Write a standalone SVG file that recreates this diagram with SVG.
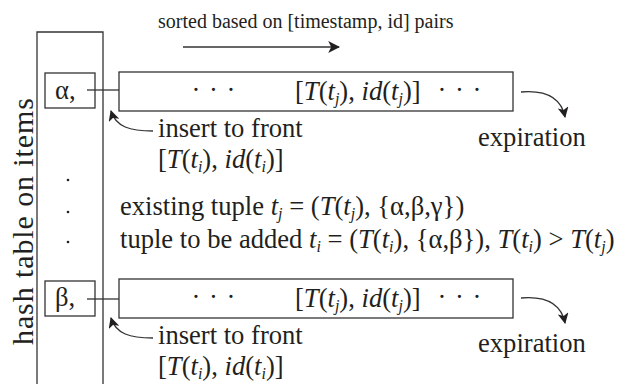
<svg xmlns="http://www.w3.org/2000/svg" width="621" height="384" viewBox="0 0 621 384" font-family="'Liberation Serif', 'Times New Roman', 'DejaVu Serif', serif">
<defs>
<style>
.ln{fill:none;stroke:#333;stroke-width:1.3}
.bx{fill:#fff;stroke:#333;stroke-width:1.3}
text{fill:#231f20}
.t{font-size:26.6px}
.d{font-size:26.6px;letter-spacing:1px}
.s{font-size:20px}
.v{font-size:30px}
.i{font-style:italic}
.sb{font-size:16px;font-style:italic}
</style>
<marker id="ah" viewBox="0 0 10 10" refX="9" refY="5" markerWidth="11" markerHeight="11" markerUnits="userSpaceOnUse" orient="auto">
<path d="M0,0 L10,5 L0,10 L2.5,5 Z" fill="#231f20"/>
</marker>
<marker id="ah2" viewBox="0 0 10 10" refX="9" refY="5" markerWidth="12" markerHeight="12" markerUnits="userSpaceOnUse" orient="auto">
<path d="M0,0 L10,5 L0,10 L2.5,5 Z" fill="#231f20"/>
</marker>
</defs>
<rect width="621" height="384" fill="#fff"/>

<g id="hashtable">
<path class="ln" d="M37,390 V32 H103 V390"/>
<text class="v" transform="translate(33,221.5) rotate(-90)" text-anchor="middle" textLength="247" lengthAdjust="spacing">hash table on items</text>
<circle cx="68" cy="180" r="1.3" fill="#231f20"/>
<circle cx="68" cy="212" r="1.3" fill="#231f20"/>
<circle cx="68" cy="242" r="1.3" fill="#231f20"/>
</g>

<g id="sorted-label">
<text class="s" x="158" y="28">sorted based on [timestamp, id] pairs</text>
</g>

<g id="alpha">
<rect class="bx" x="45" y="73" width="50" height="35"/>
<text class="t" x="55" y="99">α,</text>
</g>

<g id="list1">
<rect class="bx" x="119" y="72" width="394" height="39"/>
<text class="d" x="214" y="99" text-anchor="middle">· · ·</text>
<text class="t" x="295" y="100">[<tspan class="i">T</tspan>(<tspan class="i">t</tspan><tspan class="sb" dy="4">j</tspan><tspan dy="-4">), </tspan><tspan class="i">id</tspan>(<tspan class="i">t</tspan><tspan class="sb" dy="4">j</tspan><tspan dy="-4">)]</tspan></text>
<text class="d" x="460" y="99" text-anchor="middle">· · ·</text>
</g>

<g id="insert1">
<text class="t" x="158" y="137">insert to front</text>
<text class="t" x="158" y="168">[<tspan class="i">T</tspan>(<tspan class="i">t</tspan><tspan class="sb" dy="4">i</tspan><tspan dy="-4">), </tspan><tspan class="i">id</tspan>(<tspan class="i">t</tspan><tspan class="sb" dy="4">i</tspan><tspan dy="-4">)]</tspan></text>
</g>

<g id="expiration1">
<text class="t" x="478" y="146">expiration</text>
</g>

<g id="tuples">
<text class="t" x="120" y="215">existing tuple <tspan class="i">t</tspan><tspan class="sb" dy="4">j</tspan><tspan dy="-4"> = (</tspan><tspan class="i">T</tspan>(<tspan class="i">t</tspan><tspan class="sb" dy="4">j</tspan><tspan dy="-4">), {α,β,γ})</tspan></text>
<text class="t" x="120" y="248">tuple to be added <tspan class="i">t</tspan><tspan class="sb" dy="4">i</tspan><tspan dy="-4"> = (</tspan><tspan class="i">T</tspan>(<tspan class="i">t</tspan><tspan class="sb" dy="4">i</tspan><tspan dy="-4">), {α,β}), </tspan><tspan class="i">T</tspan>(<tspan class="i">t</tspan><tspan class="sb" dy="4">i</tspan><tspan dy="-4">) &gt; </tspan><tspan class="i">T</tspan>(<tspan class="i">t</tspan><tspan class="sb" dy="4">j</tspan><tspan dy="-4">)</tspan></text>
</g>

<g id="beta">
<rect class="bx" x="45" y="281" width="50" height="35"/>
<text class="t" x="55" y="306">β,</text>
</g>

<g id="list2">
<rect class="bx" x="119" y="279" width="394" height="39"/>
<text class="d" x="214" y="306" text-anchor="middle">· · ·</text>
<text class="t" x="295" y="307">[<tspan class="i">T</tspan>(<tspan class="i">t</tspan><tspan class="sb" dy="4">j</tspan><tspan dy="-4">), </tspan><tspan class="i">id</tspan>(<tspan class="i">t</tspan><tspan class="sb" dy="4">j</tspan><tspan dy="-4">)]</tspan></text>
<text class="d" x="460" y="306" text-anchor="middle">· · ·</text>
</g>

<g id="insert2">
<text class="t" x="158" y="344">insert to front</text>
<text class="t" x="158" y="375">[<tspan class="i">T</tspan>(<tspan class="i">t</tspan><tspan class="sb" dy="4">i</tspan><tspan dy="-4">), </tspan><tspan class="i">id</tspan>(<tspan class="i">t</tspan><tspan class="sb" dy="4">i</tspan><tspan dy="-4">)]</tspan></text>
</g>

<g id="expiration2">
<text class="t" x="478" y="352">expiration</text>
</g>

<g id="connectors">
<path class="ln" d="M183,47 H339" marker-end="url(#ah2)"/>
<path class="ln" d="M87,90 H119"/>
<path class="ln" d="M87,299 H119"/>
<path class="ln" d="M153,131 C130,131 116,127 111,111" marker-end="url(#ah)"/>
<path class="ln" d="M153,338 C130,338 116,334 111,318" marker-end="url(#ah)"/>
<path class="ln" d="M521,92 C545,90 561,97 565,117" marker-end="url(#ah)"/>
<path class="ln" d="M521,298 C545,296 561,303 565,323" marker-end="url(#ah)"/>
</g>
</svg>
